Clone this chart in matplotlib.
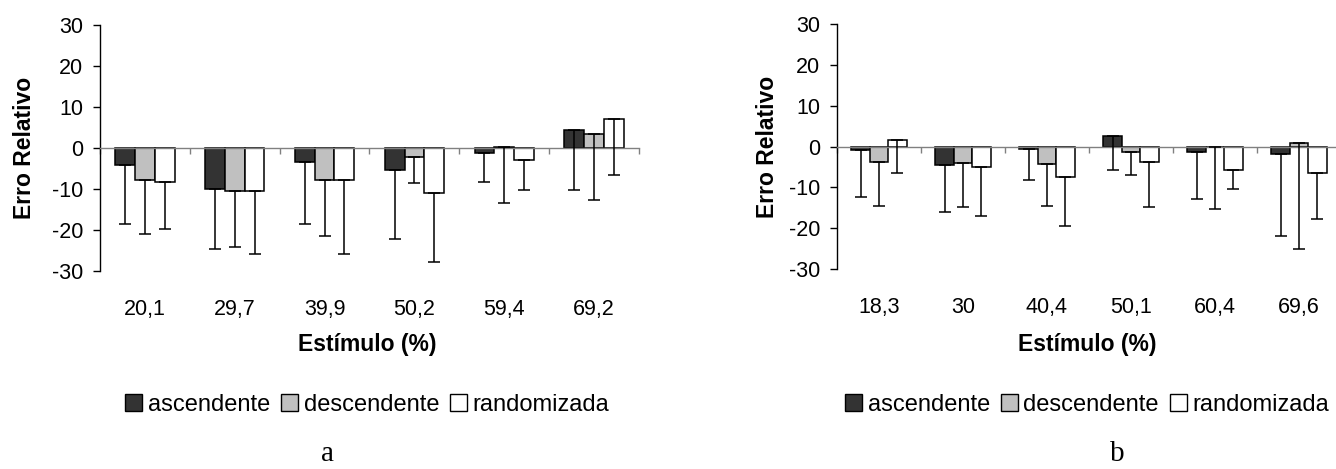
import numpy as np
import matplotlib
matplotlib.use('Agg')
import matplotlib.pyplot as plt
from matplotlib.patches import Patch

plt.rcParams['font.family'] = ['Liberation Sans', 'DejaVu Sans']
plt.rcParams['axes.unicode_minus'] = False

series = ['ascendente', 'descendente', 'randomizada']
colors = ['#333333', '#c0c0c0', '#ffffff']

# painel a
cats_a = ['20,1', '29,7', '39,9', '50,2', '59,4', '69,2']
asc_a = [-4.1, -10.0, -3.4, -5.4, -1.3, 4.5]
desc_a = [-7.9, -10.4, -7.8, -2.2, 0.3, 3.3]
rand_a = [-8.4, -10.4, -7.8, -11.0, -3.0, 7.0]
sd_asc_a = [14.5, 14.6, 15.2, 16.8, 7.0, 14.8]
sd_desc_a = [13.1, 13.8, 13.6, 6.4, 13.6, 16.1]
sd_rand_a = [11.4, 15.5, 18.1, 16.9, 7.3, 13.5]

# painel b
cats_b = ['18,3', '30', '40,4', '50,1', '60,4', '69,6']
asc_b = [-0.8, -4.6, -0.5, 2.5, -1.4, -1.8]
desc_b = [-3.7, -4.1, -4.2, -1.3, 0.0, 0.8]
rand_b = [1.6, -5.0, -7.4, -3.7, -5.8, -6.6]
sd_asc_b = [11.5, 11.4, 7.8, 8.2, 11.4, 20.0]
sd_desc_b = [10.8, 10.8, 10.3, 5.7, 15.3, 25.9]
sd_rand_b = [8.2, 11.9, 12.1, 11.2, 4.5, 11.1]

W, H = 1336, 469
fig = plt.figure(figsize=(W / 100, H / 100), dpi=100)


def panel(rect, cats, means, sds, lab_x, lab_y, leg_y, letter_x, letter):
    ax = fig.add_axes(rect)
    x = np.arange(len(cats))
    bw = 0.22
    for i, (m, s) in enumerate(zip(means, sds)):
        pos = x + (i - 1) * bw
        ax.bar(pos, m, bw, color=colors[i], edgecolor='black', linewidth=1.1, zorder=2)
        ax.errorbar(pos, m, yerr=[s, np.zeros(len(s))], fmt='none', ecolor='black',
                    elinewidth=1.1, capsize=4.5, capthick=1.1, zorder=3)

    ax.set_xlim(-0.5, len(cats) - 0.5)
    ax.set_ylim(-30, 30)
    ax.set_yticks(np.arange(-30, 31, 10))
    ax.tick_params(axis='y', direction='out', length=5, width=1, labelsize=15.5, pad=7)

    for s in ['top', 'right']:
        ax.spines[s].set_visible(False)
    ax.spines['left'].set_linewidth(1)
    ax.spines['bottom'].set_position(('data', 0))
    ax.spines['bottom'].set_color('#808080')
    ax.spines['bottom'].set_linewidth(1)
    ax.set_xticks(np.arange(len(cats) + 1) - 0.5)
    ax.set_xticklabels([])
    ax.tick_params(axis='x', direction='out', length=4.5, width=1, color='#808080')

    sec = ax.secondary_xaxis('bottom')
    sec.set_xticks(x, labels=cats)
    sec.spines['bottom'].set_visible(False)
    sec.tick_params(length=0, labelsize=15.5, pad=20)

    ax.set_ylabel('Erro Relativo', fontsize=16.5, fontweight='bold')
    ax.yaxis.set_label_coords(lab_x, 0.5)
    ax.set_xlabel('Estímulo (%)', fontsize=16.5, fontweight='bold')
    ax.xaxis.set_label_coords(0.496, lab_y)

    handles = [Patch(facecolor=c, edgecolor='black', linewidth=1) for c in colors]
    ax.legend(handles, series, loc='center', bbox_to_anchor=(0.496, leg_y), ncol=3,
              frameon=False, fontsize=17, handlelength=0.72, handleheight=0.72,
              handletextpad=0.25, columnspacing=0.45)

    fig.text(letter_x, 0.016, letter, fontsize=21, family='Liberation Serif',
             ha='center', va='baseline')
    return ax


panel([100 / W, (H - 271) / H, 539 / W, 246 / H], cats_a,
      [asc_a, desc_a, rand_a], [sd_asc_a, sd_desc_a, sd_rand_a],
      -0.119, -0.252, -0.545, 328 / W, 'a')
panel([837 / W, (H - 269) / H, 504 / W, 245 / H], cats_b,
      [asc_b, desc_b, rand_b], [sd_asc_b, sd_desc_b, sd_rand_b],
      -0.115, -0.261, -0.555, 1117 / W, 'b')

fig.savefig('out.png', dpi=100)
